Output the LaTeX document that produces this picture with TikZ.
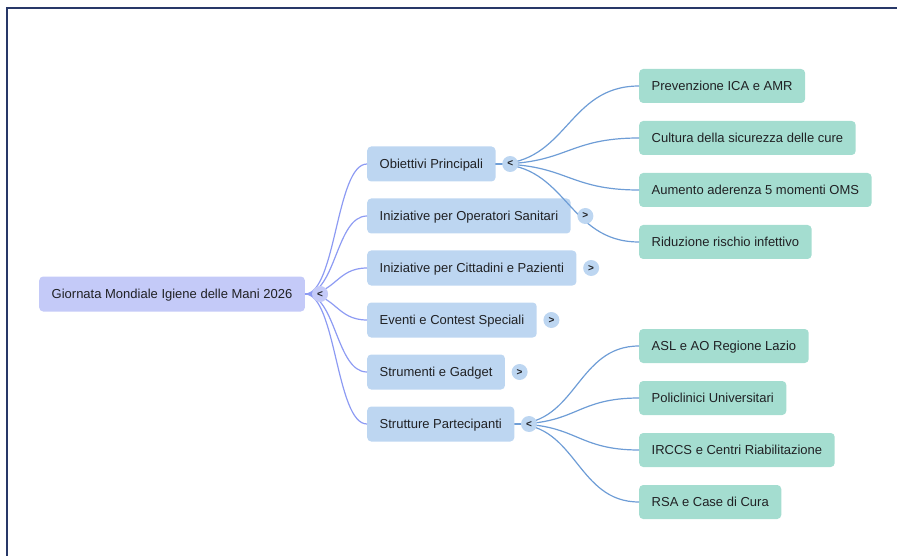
\documentclass[tikz,border=0pt]{standalone}
\usepackage{fontspec}
\setmainfont{Liberation Sans}
\usetikzlibrary{calc}
\definecolor{rootfill}{RGB}{196,202,248}
\definecolor{topicfill}{RGB}{189,214,241}
\definecolor{leaffill}{RGB}{164,221,208}
\definecolor{rootline}{RGB}{141,155,243}
\definecolor{topicline}{RGB}{110,157,214}
\definecolor{txt}{RGB}{32,33,36}
\definecolor{frame}{RGB}{40,56,104}

\begin{document}
\begin{tikzpicture}[x=1pt,y=-1pt,
  box/.style={rounded corners=4pt, inner xsep=12.5pt, minimum height=35pt,
    text height=9.3pt, text depth=0pt,
    anchor=west, text=txt, font=\fontsize{13}{15}\selectfont},
  root/.style={box, fill=rootfill},
  topic/.style={box, fill=topicfill},
  leaf/.style={box, fill=leaffill, minimum height=34pt},
  toggle/.style={circle, inner sep=0pt, minimum size=16pt, text=txt,
    font=\fontsize{10}{10}\selectfont\bfseries},
  branch/.style={line width=1.2pt, to path={let \p1=(\tikztostart), \p2=(\tikztotarget) in
    .. controls ({(\x1+\x2)/2},\y1) and ({(\x1+\x2)/2},\y2) .. (\p2)}}]
  \useasboundingbox (0,0) rectangle (897,556);
  \draw[frame, line width=1.3pt] (7,556) -- (7,8) -- (897,8);

  \node[root] (giornata) at (39,294) {Giornata Mondiale Igiene delle Mani 2026};

  \node[topic] (obiettivi) at (367,164) {Obiettivi Principali};
  \node[topic] (operatori) at (367,216) {Iniziative per Operatori Sanitari};
  \node[topic] (cittadini) at (367,268) {Iniziative per Cittadini e Pazienti};
  \node[topic] (eventi)    at (367,320) {Eventi e Contest Speciali};
  \node[topic] (strumenti) at (367,372) {Strumenti e Gadget};
  \node[topic] (strutture) at (367,424) {Strutture Partecipanti};

  \node[leaf] (prevenzione) at (639,86)  {Prevenzione ICA e AMR};
  \node[leaf] (cultura)     at (639,138) {Cultura della sicurezza delle cure};
  \node[leaf] (aderenza)    at (639,190) {Aumento aderenza 5 momenti OMS};
  \node[leaf] (riduzione)   at (639,242) {Riduzione rischio infettivo};

  \node[leaf] (asl)         at (639,346) {ASL e AO Regione Lazio};
  \node[leaf] (policlinici) at (639,398) {Policlinici Universitari};
  \node[leaf] (irccs)       at (639,450) {IRCCS e Centri Riabilitazione};
  \node[leaf] (rsa)         at (639,502) {RSA e Case di Cura};

  % rami sotto i pulsanti
  \foreach \t in {obiettivi,operatori,cittadini,eventi,strumenti,strutture}
    \draw[branch, rootline] (giornata.east) to (\t.west);
  \foreach \t in {prevenzione,cultura,aderenza,riduzione}
    \draw[branch, topicline] (obiettivi.east) to (\t.west);
  \foreach \t in {asl,policlinici,irccs,rsa}
    \draw[branch, topicline] (strutture.east) to (\t.west);

  \node[toggle, fill=rootfill] (giornata-tg) at ([xshift=15pt]giornata.east) {<};
  \node[toggle, fill=topicfill] (obiettivi-tg) at ([xshift=14.5pt]obiettivi.east) {<};
  \node[toggle, fill=topicfill] (strutture-tg) at ([xshift=14.5pt]strutture.east) {<};
  \foreach \t in {operatori,cittadini,eventi,strumenti}
    \node[toggle, fill=topicfill] (\t-tg) at ([xshift=14.5pt]\t.east) {>};
\end{tikzpicture}
\end{document}
